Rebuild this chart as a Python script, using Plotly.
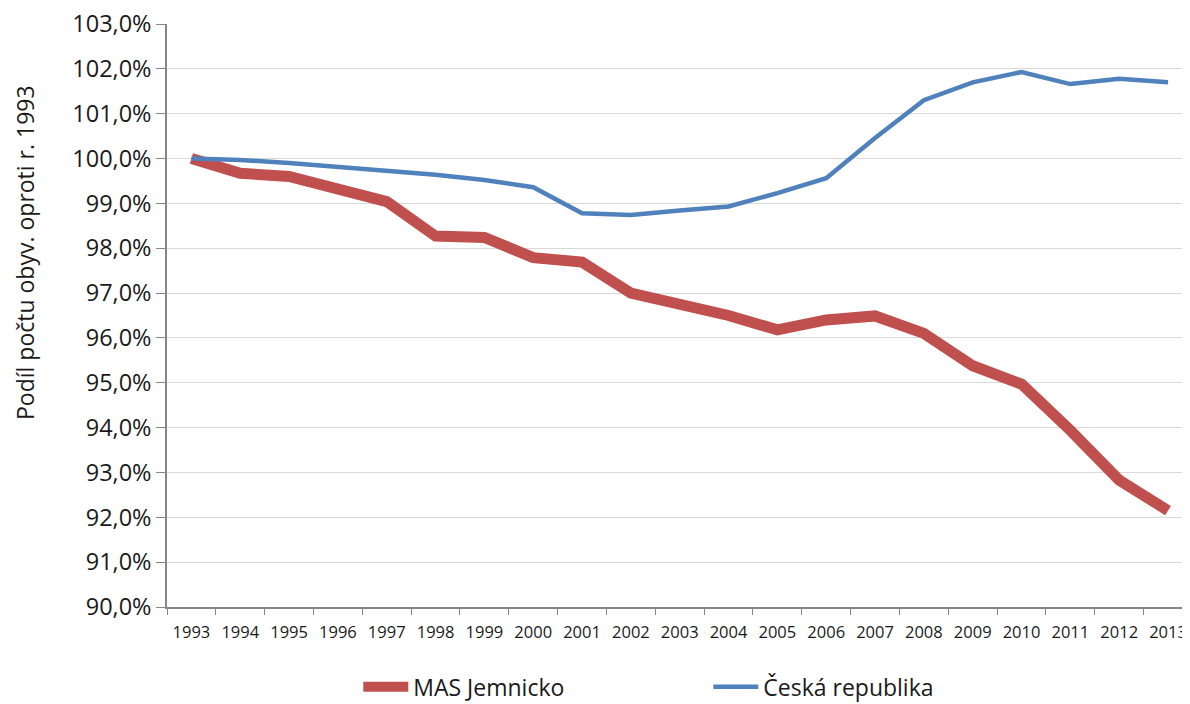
import plotly.graph_objects as go

years = [str(y) for y in range(1993, 2014)]
mas_jemnicko = [100.0, 99.67, 99.60, 99.34, 99.04, 98.27, 98.24, 97.79, 97.69, 97.00, 96.76,
                96.50, 96.18, 96.40, 96.49, 96.10, 95.38, 94.97, 93.94, 92.83, 92.15]
ceska_republika = [100.0, 99.97, 99.90, 99.81, 99.73, 99.64, 99.52, 99.36, 98.78, 98.74, 98.84,
                   98.93, 99.23, 99.56, 100.46, 101.30, 101.70, 101.93, 101.66, 101.78, 101.70]
y_ticks = [90, 91, 92, 93, 94, 95, 96, 97, 98, 99, 100, 101, 102, 103]
y_ticktext = [f"{v:.1f}".replace(".", ",") + "%" for v in y_ticks]

FONT = "Open Sans"
TXT = "#1a1a1a"

# page body has an 8px margin, so the figure is drawn 8px in from the top-left
fig = go.Figure()
fig.add_trace(go.Scatter(x=years, y=mas_jemnicko, name="MAS Jemnicko", mode="lines",
                         line=dict(color="#C0504D", width=11)))
fig.add_trace(go.Scatter(x=years, y=ceska_republika, name="Česká republika", mode="lines",
                         line=dict(color="#4F81BD", width=4.5)))

fig.update_layout(
    width=1182, height=696,
    margin=dict(l=159, r=0, t=16, b=97, autoexpand=False),
    paper_bgcolor="white", plot_bgcolor="white",
    font=dict(family=FONT, color=TXT),
    showlegend=True,
    legend=dict(orientation="h", x=0.187, xanchor="left", y=-0.137, yanchor="middle",
                font=dict(size=23, family=FONT, color=TXT),
                entrywidth=290, entrywidthmode="pixels", itemwidth=45,
                traceorder="normal"),
    annotations=[dict(text="Podíl počtu obyv. oproti r. 1993", textangle=-90,
                      xref="paper", yref="paper", x=-(167 - 25) / 1023, y=(607 - 253) / 583,
                      xanchor="center", yanchor="middle", showarrow=False,
                      font=dict(size=23, family=FONT, color=TXT))],
)
fig.update_xaxes(
    type="category", range=[-0.5, 20.45], automargin=False, ticklabeloverflow="allow",
    tickson="boundaries", ticks="outside", ticklen=6, tickcolor="#868686",
    ticklabelstandoff=9,
    showline=True, linecolor="#868686", linewidth=1.5,
    showgrid=False, tickfont=dict(size=16.5, family=FONT, color=TXT),
)
fig.update_yaxes(
    range=[90, 103], tickvals=y_ticks, ticktext=y_ticktext, automargin=False,
    ticklabeloverflow="allow",
    ticks="outside", ticklen=9, tickcolor="#868686",
    showline=True, linecolor="#868686", linewidth=1.5,
    showgrid=True, gridcolor="#D9D9D9", gridwidth=1.2,
    tickfont=dict(size=23.5, family=FONT, color=TXT),
    zeroline=False,
)

fig.write_html("out.html")
